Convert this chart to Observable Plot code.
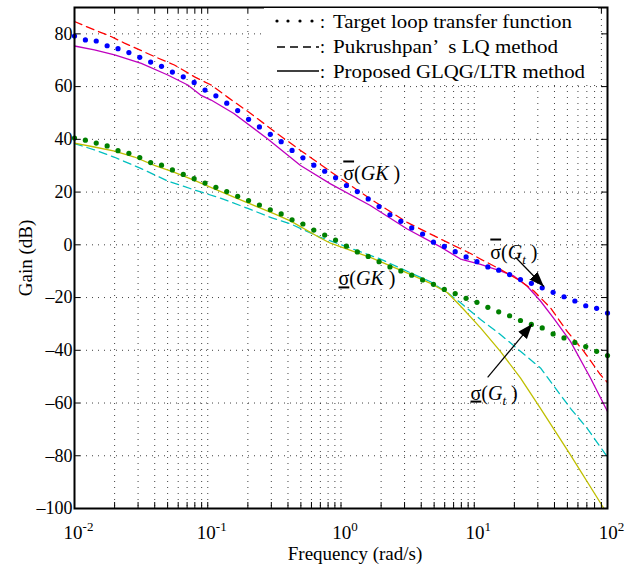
<!DOCTYPE html>
<html><head><meta charset="utf-8">
<script src="https://cdn.jsdelivr.net/npm/d3@7"></script>
<script src="https://cdn.jsdelivr.net/npm/@observablehq/plot@0.6"></script>
<style>
body{margin:0;background:#fff;}
#chart{position:relative;width:636px;height:571px;}
</style></head><body><div id="chart"></div>
<script>
// ---- data ----
const dotFreq = [0.01,0.01207,0.01456,0.01758,0.02121,0.0256,0.03089,0.03728,0.04498,0.05429,
  0.06551,0.07906,0.09541,0.1151,0.1389,0.1677,0.2024,0.2442,0.2947,0.3556,
  0.4292,0.5179,0.6251,0.7543,0.9103,1.099,1.326,1.6,1.931,2.33,
  2.812,3.393,4.095,4.942,5.964,7.197,8.685,10.48,12.65,15.26,
  18.42,22.23,26.83,32.37,39.07,47.15,56.9,68.66,82.86,100];
const targetMax = [79.2,77.7,77.3,75.5,74.4,72.9,71.1,69.3,67.7,65.5,
  63.7,61.6,58.7,56.5,53.7,50.9,47.6,44.7,41.9,39.1,
  35.8,33.0,30.2,27.9,25.4,22.5,20.2,17.4,14.5,11.4,
  8.9,6.4,4.1,1.0,-0.6,-2.6,-4.6,-6.4,-8.4,-9.6,
  -11.3,-13.2,-14.6,-16.3,-18.0,-19.7,-21.3,-23.1,-24.1,-25.9];
const targetMin = [40.5,39.7,38.6,37.5,35.7,34.7,33.1,31.2,30.2,28.4,
  26.7,25.1,23.4,21.8,20.2,18.4,16.8,15.1,13.3,11.7,
  9.5,7.9,5.6,3.7,1.8,-0.5,-2.7,-4.4,-6.4,-8.4,
  -9.9,-11.5,-13.3,-15.0,-16.9,-18.5,-20.3,-21.8,-23.7,-25.4,
  -26.9,-28.7,-30.2,-31.5,-33.8,-35.3,-37.0,-38.6,-40.4,-42.0];
const lqMax = [[0.01,84.7],[0.0141,81.5],[0.0188,79.0],[0.0237,76.5],[0.0398,71.4],[0.0562,68.2],[0.0796,63.7],
  [0.106,60.6],[0.14,56.1],[0.21,49.8],[0.332,42.2],[0.497,35.8],[0.834,27.8],[1.66,17.4],[3.14,8.5],[5.58,2.2],
  [9.38,-3.3],[11.15,-5.4],[15.7,-9.3],[22.2,-13.7],[28.0,-17.5],[37.3,-23.9],[49.8,-32.8],[66.4,-40.4],[88.6,-49.3],[100,-52.2]];
const glqgMax = [[0.01,75.4],[0.0141,73.9],[0.02,72.0],[0.0317,68.8],[0.0501,64.4],[0.0708,60.6],[0.0883,56.8],
  [0.106,54.9],[0.157,49.8],[0.279,40.3],[0.497,30.1],[0.834,23.1],[1.66,14.9],[3.14,6.0],[5.58,-0.8],[7.89,-5.4],
  [11.15,-7.4],[15.7,-9.9],[19.8,-11.8],[24.9,-15.6],[31.4,-21.3],[39.5,-27.9],[52.7,-36.6],[74.5,-50.5],[100,-63.2]];
const lqMin = [[0.01,38.4],[0.0141,36.0],[0.02,33.2],[0.0317,28.9],[0.0501,24.2],[0.0796,20.8],[0.126,17.6],
  [0.2,13.8],[0.299,10.3],[0.42,7.9],[0.70,2.8],[0.834,1.5],[1.98,-5.4],[3.52,-11.2],[4.7,-14.0],[6.3,-18.2],
  [7.89,-22.0],[11.15,-28.3],[15.7,-34.0],[22.2,-40.4],[31.4,-46.7],[37.3,-51.8],[52.7,-62.0],[70.4,-69.6],[93.8,-78.5],[100,-80.5]];
const glqgMin = [[0.01,38.6],[0.0141,37.1],[0.02,35.5],[0.0282,33.3],[0.0398,30.1],[0.0562,27.5],[0.0796,24.4],
  [0.112,21.2],[0.159,18.0],[0.224,14.9],[0.317,11.7],[0.42,9.0],[0.70,2.6],[0.834,0.6],[1.66,-4.8],[3.32,-11.2],
  [4.7,-14.6],[6.3,-18.2],[7.89,-23.2],[11.15,-31.5],[15.7,-40.4],[22.2,-50.5],[31.4,-62.0],[52.7,-79.7],[94,-100]];

const xTickVals = [0.01, 0.1, 1, 10, 100];
const yTickVals = [-100, -80, -60, -40, -20, 0, 20, 40, 60, 80];
const yGridVals = [-80, -60, -40, -20, 0, 20, 40, 60, 80];

const annoFreq = [1.04, 13.2, 0.958, 9.38];
const annoGain = [24.4, -5.2, -15.4, -58.7];
const annoText = ["σ(GK )", "σ(Gt )", "σ(GK )", "σ(Gt )"];
const annoDeco = ["overline", "overline", "underline", "underline"];
const annoSub = [false, true, false, true];

const arrowFrom = [[20.4, -4.7], [12.6, -50.3]];
const arrowTo = [[33.3, -15.8], [27.2, -30.0]];

const legendLabels = ["Target loop transfer function", "Pukrushpan\u2019  s LQ method", "Proposed GLQG/LTR method"];

// ---- build ----
const minorTicks = [];
for (const base of [0.01, 0.1, 1, 10]) for (let m = 1; m <= 9; m++) minorTicks.push(+(base * m).toPrecision(3));
const xGridVals = minorTicks.filter(d => d > 0.01);

const dotMax = dotFreq.map((f, i) => ({f, g: targetMax[i]}));
const dotMin = dotFreq.map((f, i) => ({f, g: targetMin[i]}));
const annos = annoFreq.map((f, i) => ({f, g: annoGain[i], label: annoText[i]}));
const arrows = arrowFrom.map((a, i) => ({x1: a[0], y1: a[1], x2: arrowTo[i][0], y2: arrowTo[i][1]}));

const gridStyle = {stroke: "#000", strokeOpacity: 0.75, strokeDasharray: "1,5", strokeWidth: 1};
const lw = 1.3;

const plot = Plot.plot({
  width: 636, height: 571,
  marginLeft: 74, marginRight: 29, marginTop: 7, marginBottom: 63,
  style: {fontFamily: "'Liberation Serif', 'Times New Roman', serif", fontSize: "18px", background: "white", color: "black"},
  x: {type: "log", domain: [0.01, 100], ticks: xTickVals, tickFormat: d => "10^" + Math.round(Math.log10(d)), tickSize: 0, tickPadding: 17, label: null},
  y: {domain: [-100, 90], ticks: yTickVals, tickFormat: d => d < 0 ? "\u2013" + Math.abs(d) : String(d), tickSize: 0, tickPadding: 2, label: null},
  marks: [
    Plot.ruleX(xGridVals, gridStyle),
    Plot.ruleY(yGridVals, gridStyle),
    Plot.line(lqMin, {x: d => d[0], y: d => d[1], stroke: "#00bfbf", strokeWidth: lw, strokeDasharray: "8,5"}),
    Plot.line(glqgMin, {x: d => d[0], y: d => d[1], stroke: "#bfbf00", strokeWidth: lw}),
    Plot.line(glqgMax, {x: d => d[0], y: d => d[1], stroke: "#bf00bf", strokeWidth: lw}),
    Plot.line(lqMax, {x: d => d[0], y: d => d[1], stroke: "#ff0000", strokeWidth: lw, strokeDasharray: "8,5"}),
    Plot.dot(dotMax, {x: "f", y: "g", r: 2.6, fill: "#0000ff"}),
    Plot.dot(dotMin, {x: "f", y: "g", r: 2.6, fill: "#008000"}),
    Plot.frame({stroke: "black", strokeWidth: 2}),
    Plot.tickX(minorTicks, {x: d => d, insetTop: 495, stroke: "black"}),
    Plot.tickX(minorTicks, {x: d => d, insetBottom: 495, stroke: "black"}),
    Plot.tickY(yGridVals, {y: d => d, insetRight: 527, stroke: "black"}),
    Plot.tickY(yGridVals, {y: d => d, insetLeft: 527, stroke: "black"}),
    Plot.link(arrows, {x1: "x1", y1: "y1", x2: "x2", y2: "y2", stroke: "black", strokeWidth: 1.2}),
    Plot.text(annos, {x: "f", y: "g", text: "label", textAnchor: "start", lineAnchor: "bottom", fontSize: 20, fill: "black"})
  ]
});

document.getElementById("chart").appendChild(plot);
const svg = d3.select(plot);

// x tick labels with superscripts
svg.selectAll("text").each(function () {
  const m = /^10\^(-?\d)$/.exec(this.textContent);
  if (m) {
    const el = d3.select(this);
    el.text(null).attr("font-size", 19).attr("dx", 4);
    el.append("tspan").text("10");
    el.append("tspan").attr("dy", "-0.6em").attr("font-size", 13).text(m[1]);
  }
});

// annotations: sigma with over/underline, italic G K, subscript t
svg.selectAll('g[aria-label="text"] text').each(function (_, i) {
  const el = d3.select(this);
  el.text(null);
  el.append("tspan").style("text-decoration", annoDeco[i]).text("σ");
  el.append("tspan").text("(");
  if (annoSub[i]) {
    el.append("tspan").attr("font-style", "italic").text("G");
    el.append("tspan").attr("font-style", "italic").attr("font-size", 13).attr("dy", 5).text("t");
    el.append("tspan").attr("dy", -5).text("\u00A0)");
  } else {
    el.append("tspan").attr("font-style", "italic").text("GK");
    el.append("tspan").text("\u00A0)");
  }
});

// filled arrowheads
const defs = svg.append("defs");
defs.append("marker").attr("id", "filledHead")
  .attr("viewBox", "0 -5 12 10").attr("markerWidth", 15).attr("markerHeight", 12.5)
  .attr("refX", 12).attr("refY", 0).attr("orient", "auto").attr("markerUnits", "userSpaceOnUse")
  .append("path").attr("d", "M0,-4.5L12,0L0,4.5Z").attr("fill", "black");
svg.selectAll('g[aria-label="link"] path').attr("marker-end", "url(#filledHead)");

// legend
const lg = svg.append("g").attr("fill", "black").attr("text-anchor", "start");
lg.append("rect").attr("x", 264).attr("y", 8).attr("width", 334).attr("height", 76).style("fill", "white");
const rowBase = [28, 53, 78];
const rowWidths = [239, 225, 252];
[277, 288, 300, 312].forEach(cx => lg.append("circle").attr("cx", cx).attr("cy", rowBase[0] - 7).attr("r", 1.6));
lg.append("line").attr("x1", 277).attr("x2", 319).attr("y1", rowBase[1] - 6).attr("y2", rowBase[1] - 6)
  .attr("stroke", "black").attr("stroke-width", 1.5).attr("stroke-dasharray", "8,5");
lg.append("line").attr("x1", 277).attr("x2", 319).attr("y1", rowBase[2] - 7).attr("y2", rowBase[2] - 7)
  .attr("stroke", "black").attr("stroke-width", 1.5);
legendLabels.forEach((t, i) => {
  lg.append("text").attr("x", 320).attr("y", rowBase[i]).attr("font-size", 18).attr("text-anchor", "start").text(":");
  lg.append("text").attr("x", 333).attr("y", rowBase[i]).attr("font-size", 18).attr("text-anchor", "start")
    .attr("textLength", rowWidths[i]).attr("lengthAdjust", "spacingAndGlyphs")
    .style("white-space", "pre").text(t);
});

// axis titles
svg.append("text").attr("x", 355).attr("y", 560).attr("text-anchor", "middle").attr("font-size", 19).attr("fill", "black").text("Frequency (rad/s)");
svg.append("text").attr("transform", "translate(32,258) rotate(-90)").attr("text-anchor", "middle").attr("font-size", 19).attr("fill", "black").text("Gain (dB)");
</script>
</body></html>
